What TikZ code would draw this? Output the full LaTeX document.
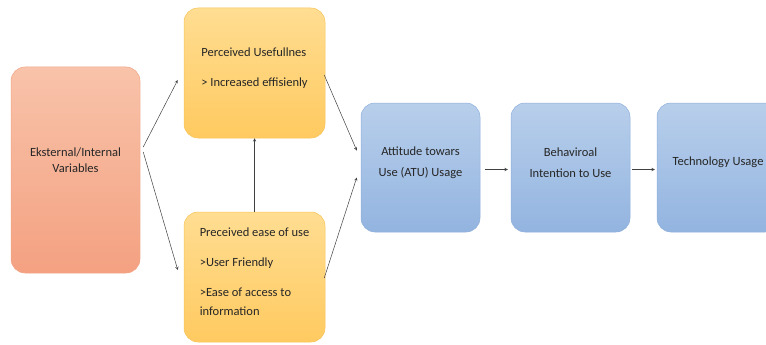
\documentclass[tikz,border=0pt]{standalone}
\usepackage{fontspec}
\setmainfont{Carlito}
\usetikzlibrary{calc}

\definecolor{extTop}{HTML}{F8C3AA}
\definecolor{extBot}{HTML}{F4A181}
\definecolor{extLine}{HTML}{F2A587}
\definecolor{ylwTop}{HTML}{FFDD92}
\definecolor{ylwBot}{HTML}{FFCA60}
\definecolor{ylwLine}{HTML}{F7C45A}
\definecolor{bluTop}{HTML}{B8CFEB}
\definecolor{bluBot}{HTML}{93B4E0}
\definecolor{bluLine}{HTML}{8FAFDC}
\definecolor{arrowGray}{HTML}{404040}

\begin{document}
\begin{tikzpicture}[x=1pt, y=-1pt, >=stealth,
  box/.style={rounded corners=14pt, line width=0.5pt},
  lbl/.style={font=\fontsize{12.5}{#1}\selectfont, text=black!85},
  extbox/.style={box, draw=extLine, top color=extTop, bottom color=extBot},
  ylwbox/.style={box, draw=ylwLine, top color=ylwTop, bottom color=ylwBot,
    minimum width=141pt, minimum height=130pt},
  blubox/.style={box, draw=bluLine, top color=bluTop, bottom color=bluBot,
    minimum width=119pt, minimum height=129pt},
  link/.style={->, draw=arrowGray, line width=0.5pt}]
  \useasboundingbox (0,0) rectangle (766,345);
  \clip (0,0) rectangle (766,345);
  % boxes
  \node[extbox, minimum width=129pt, minimum height=206pt,
    label={[lbl=16, align=center, yshift=10pt]center:{Eksternal/Internal\\Variables}}]
    (ext) at (75.5,170) {};
  \node[ylwbox,
    label={[lbl=19, align=left, yshift=5pt]center:{Perceived Usefullnes\\[11pt] > Increased effisienly}}]
    (pu) at (254.5,73) {};
  \node[ylwbox,
    label={[lbl=19, align=left, yshift=5pt]center:{Preceived ease of use\\[11pt] >User Friendly\\[11pt] >Ease of access to\\information}}]
    (peu) at (254.5,277) {};
  \node[blubox,
    label={[lbl=21, align=center, yshift=5pt]center:{Attitude towars\\Use (ATU) Usage}}]
    (atu) at (420.5,167.5) {};
  \node[blubox,
    label={[lbl=21, align=center, yshift=5pt]center:{Behaviroal\\Intention to Use}}]
    (bi) at (570.5,167.5) {};
  \node[blubox, minimum width=122pt,
    label={[lbl=16, yshift=5pt]center:{Technology Usage}}]
    (tu) at (718,167.5) {};
  % arrows
  \coordinate (extA) at ($(ext.east)+(3,-23)$);
  \coordinate (extB) at ($(ext.east)+(3,-18)$);
  \draw[link] (extA) -- ($(pu.west)+(-6,7)$);
  \draw[link] (extB) -- ($(peu.west)+(-6,-7)$);
  \draw[link] (peu.north) -- (pu.north |- pu.south);
  \draw[link] ($(pu.east)+(-1,2)$) -- ($(atu.west)+(-4,-17)$);
  \draw[link] ($(peu.east)+(-1,1)$) -- ($(atu.west)+(-4,10)$);
  \draw[link] ($(atu.east)+(5,2)$) -- ($(bi.west)+(-3,2)$);
  \draw[link] ($(bi.east)+(2,2)$) -- ($(tu.west)+(-2,2)$);
\end{tikzpicture}
\end{document}
